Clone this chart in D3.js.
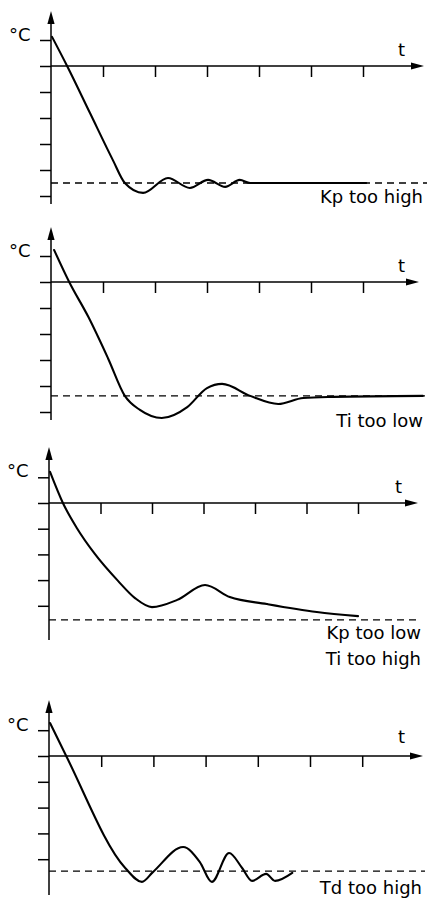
<!DOCTYPE html>
<html>
<head>
<meta charset="utf-8">
<script src="https://cdn.jsdelivr.net/npm/d3@7"></script>
<style>
  html, body { margin: 0; padding: 0; background: #fff; }
  svg { display: block; }
  text { font-family: "DejaVu Sans", "Open Sans", sans-serif; fill: #000; }
</style>
</head>
<body>
<svg id="chart" width="427" height="899"></svg>
<script>
// ---- data (t in tick units, temperature in tick units; 0 = x-axis) ----
const labels = [["Kp too high"], ["Ti too low"], ["Kp too low", "Ti too high"], ["Td too high"]];
const yUnitLabel = "°C";
const xUnitLabel = "t";
const xTickValues = [1, 2, 3, 4, 5, 6];
const yTickValues = [[1, -1, -2, -3, -4, -5], [1, -1, -2, -3, -4, -5], [1, -1, -2, -3, -4], [1, -1, -2, -3, -4]];
const setpoints = [-4.5, -4.38, -4.55, -4.46];

const curveKpHigh = [
  [0.02, 1.12], [0.31, 0], [0.75, -1.81], [1.19, -3.62], [1.42, -4.5], [1.77, -4.88],
  [2.25, -4.31], [2.67, -4.69], [3.02, -4.38], [3.35, -4.65], [3.63, -4.38],
  [3.83, -4.5], [6.06, -4.5]
];
const curveTiLow = [
  [0.06, 1.23], [0.35, 0], [0.72, -1.35], [1.1, -2.95], [1.42, -4.38], [1.71, -4.92],
  [2.13, -5.23], [2.62, -4.81], [3.0, -4.08], [3.29, -3.92], [3.83, -4.38],
  [4.37, -4.69], [4.85, -4.46], [5.42, -4.42], [7.15, -4.38]
];
const curveKpLowTiHigh = [
  [0.02, 1.21], [0.27, 0], [0.54, -0.97], [0.89, -1.98], [1.34, -3.03], [1.67, -3.7],
  [2.0, -4.05], [2.49, -3.77], [3.03, -3.19], [3.51, -3.66], [4.23, -3.93],
  [5.2, -4.24], [6.0, -4.4]
];
const curveTdHigh = [
  [0.02, 1.28], [0.33, 0], [1.46, -4.34], [1.78, -4.88], [1.99, -4.5], [2.57, -3.53],
  [2.89, -4.11], [3.12, -4.88], [3.45, -3.76], [3.7, -4.34], [3.89, -4.84],
  [4.16, -4.57], [4.33, -4.84], [4.66, -4.53]
];
const curves = [curveKpHigh, curveTiLow, curveKpLowTiHigh, curveTdHigh];

// ---- layout ----
const panels = [
  { ox: 51, oy: 66,  ux: 52,   uy: 26,   top: 11,  bottom: 204, arrowX: 424, dashEnd: 427, cX: 9, cY: 41,  tX: 398, tY: 56,  labX: 423, labY: [203] },
  { ox: 51, oy: 282, ux: 52,   uy: 26,   top: 227, bottom: 420, arrowX: 419, dashEnd: 425, cX: 9, cY: 257, tX: 398, tY: 272, labX: 423, labY: [427] },
  { ox: 49, oy: 503, ux: 51.5, uy: 25.7, top: 447, bottom: 640, arrowX: 418, dashEnd: 421, cX: 7, cY: 477, tX: 395, tY: 493, labX: 421, labY: [639, 665] },
  { ox: 49, oy: 756, ux: 52.2, uy: 25.8, top: 700, bottom: 895, arrowX: 423, dashEnd: 425, cX: 7, cY: 731, tX: 398, tY: 743, labX: 422, labY: [894] }
];

const svg = d3.select("#chart");
const tickLen = 11;
const fontSize = 18;

panels.forEach((p, i) => {
  const x = d3.scaleLinear().domain([0, 1]).range([p.ox, p.ox + p.ux]);
  const y = d3.scaleLinear().domain([0, 1]).range([p.oy, p.oy - p.uy]);
  const g = svg.append("g");

  // setpoint dashed line
  g.append("line")
    .attr("x1", x(0)).attr("x2", p.dashEnd)
    .attr("y1", y(setpoints[i])).attr("y2", y(setpoints[i]))
    .attr("stroke", "#000").attr("stroke-width", 1.3)
    .attr("stroke-dasharray", "7,5");

  // y ticks (to the left)
  const yAxis = d3.axisLeft(y).tickValues(yTickValues[i].concat([0])).tickSize(tickLen).tickFormat("");
  const ya = g.append("g").attr("transform", `translate(${x(0)},0)`).call(yAxis);
  ya.select(".domain").remove();
  ya.selectAll("line").attr("stroke", "#000").attr("stroke-width", 1.5);

  // x ticks (below)
  const xAxis = d3.axisBottom(x).tickValues(xTickValues).tickSize(tickLen).tickFormat("");
  const xa = g.append("g").attr("transform", `translate(0,${y(0)})`).call(xAxis);
  xa.select(".domain").remove();
  xa.selectAll("line").attr("stroke", "#000").attr("stroke-width", 1.5);

  // axis lines
  g.append("line").attr("x1", x(0)).attr("x2", x(0)).attr("y1", p.bottom).attr("y2", p.top + 10)
    .attr("stroke", "#000").attr("stroke-width", 1.5);
  g.append("line").attr("x1", x(0)).attr("x2", p.arrowX - 10).attr("y1", y(0)).attr("y2", y(0))
    .attr("stroke", "#000").attr("stroke-width", 1.5);

  // arrowheads
  const ah = 13, aw = 3.6;
  g.append("path")
    .attr("d", `M${x(0)},${p.top} L${x(0) - aw},${p.top + ah} L${x(0) + aw},${p.top + ah} Z`)
    .attr("fill", "#000");
  g.append("path")
    .attr("d", `M${p.arrowX},${y(0)} L${p.arrowX - ah},${y(0) - aw} L${p.arrowX - ah},${y(0) + aw} Z`)
    .attr("fill", "#000");

  // curve
  const line = d3.line().x(d => x(d[0])).y(d => y(d[1])).curve(d3.curveMonotoneX);
  g.append("path").datum(curves[i]).attr("d", line)
    .attr("fill", "none").attr("stroke", "#000").attr("stroke-width", 2.1)
    .attr("stroke-linejoin", "round").attr("stroke-linecap", "round");

  // texts
  g.append("text").attr("x", p.cX).attr("y", p.cY).attr("font-size", fontSize).text(yUnitLabel);
  g.append("text").attr("x", p.tX).attr("y", p.tY).attr("font-size", fontSize).text(xUnitLabel);
  labels[i].forEach((s, k) => {
    g.append("text").attr("x", p.labX).attr("y", p.labY[k]).attr("font-size", fontSize)
      .attr("text-anchor", "end").text(s);
  });
});
</script>
</body>
</html>
